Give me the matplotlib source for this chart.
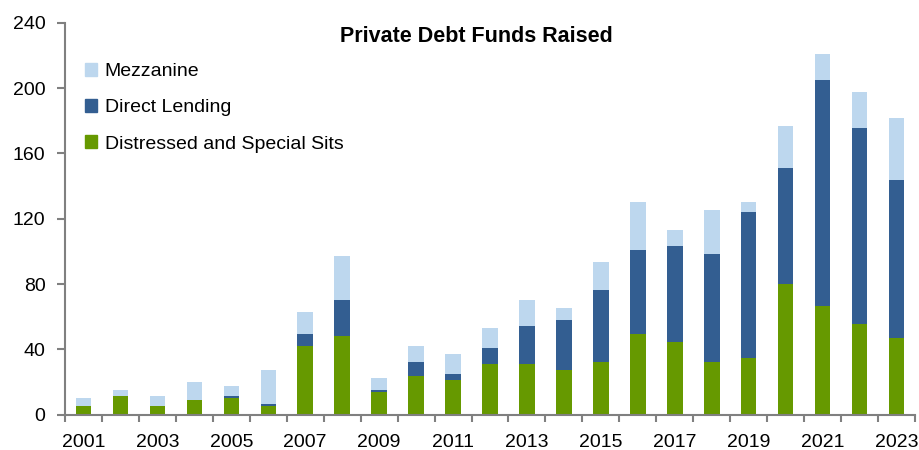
import matplotlib
matplotlib.use("Agg")
import matplotlib.pyplot as plt
import numpy as np
from matplotlib.patches import Patch

years = list(range(2001, 2024))
distressed = [5.3, 11.4, 5.3, 9.0, 10.2, 5.3, 42.0, 48.2, 13.9, 23.7, 21.2, 31.0, 31.0, 27.3,
              32.2, 49.4, 44.5, 32.2, 34.7, 80.0, 66.5, 55.5, 46.9]
direct_lending = [0.0, 0.0, 0.0, 0.0, 1.2, 1.2, 7.4, 22.0, 1.2, 8.5, 3.7, 9.8, 23.3, 30.7,
                  44.1, 51.4, 58.8, 66.2, 89.4, 71.0, 138.4, 120.0, 96.8]
mezzanine = [4.9, 3.7, 6.1, 11.0, 6.1, 20.8, 13.5, 26.9, 7.3, 9.8, 12.2, 12.3, 15.9, 7.3,
             17.2, 29.4, 9.8, 26.9, 6.1, 25.7, 15.9, 22.1, 37.9]
yticks = [0, 40, 80, 120, 160, 200, 240]

c_mezz = "#BDD7EE"
c_dl = "#335E91"
c_dis = "#669900"

plt.rcParams['font.family'] = ['Liberation Sans', 'DejaVu Sans']

fig = plt.figure(figsize=(9.19, 4.5), dpi=100)
ax = fig.add_axes([65/919, 1 - 414.7/450, 850/919, 392/450])

x = np.arange(len(years))
w = 0.42
d = np.array(distressed)
dl = np.array(direct_lending)
m = np.array(mezzanine)
ax.bar(x, d, w, color=c_dis, label="Distressed and Special Sits")
ax.bar(x, dl, w, bottom=d, color=c_dl, label="Direct Lending")
ax.bar(x, m, w, bottom=d + dl, color=c_mezz, label="Mezzanine")

ax.set_xlim(-0.5, len(years) - 0.5)
ax.set_ylim(0, 240)
ax.set_yticks(yticks)
ax.set_yticklabels([str(v) for v in yticks], fontsize=14)
ax.set_xticks(x[::2])
ax.set_xticklabels([str(y) for y in years[::2]], fontsize=14)
ax.set_xticks(np.arange(-0.5, len(years)), minor=True)
ax.tick_params(axis='x', which='major', length=0, pad=14)
ax.tick_params(axis='x', which='minor', length=5, width=1.5, color='#808080', direction='out')
ax.tick_params(axis='y', length=6, width=1.5, color='#808080', direction='out', pad=8)

for s in ['top', 'right']:
    ax.spines[s].set_visible(False)
for s in ['left', 'bottom']:
    ax.spines[s].set_color('#808080')
    ax.spines[s].set_linewidth(1.5)

fig.text(476/919, 1 - 37/450, "Private Debt Funds Raised", fontsize=15.5, fontweight='bold',
         ha='center', va='center')

handles = [Patch(color=c_mezz, label="Mezzanine"),
           Patch(color=c_dl, label="Direct Lending"),
           Patch(color=c_dis, label="Distressed and Special Sits")]
leg = ax.legend(handles=handles, loc='upper left', bbox_to_anchor=(85/919, 1 - 63/450),
                bbox_transform=fig.transFigure, frameon=False, fontsize=14,
                handlelength=0.62, handleheight=0.62, handletextpad=0.4, labelspacing=0.98,
                borderpad=0, borderaxespad=0)

fig.savefig("out.png", dpi=100)
